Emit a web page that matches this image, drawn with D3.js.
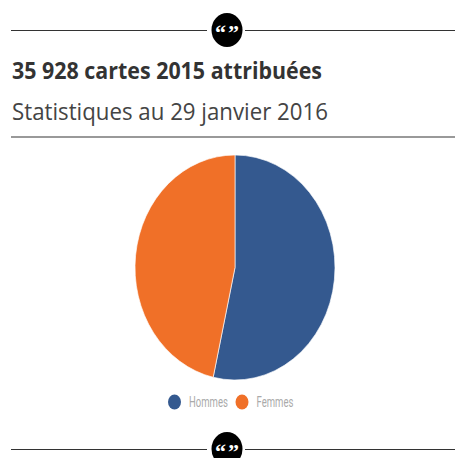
<!DOCTYPE html>
<html>
<head>
<meta charset="utf-8">
<script src="https://cdnjs.cloudflare.com/ajax/libs/d3/7.8.5/d3.min.js"></script>
<style>
  html, body { margin: 0; padding: 0; background: #fff; overflow: hidden; }
</style>
</head>
<body>
<div id="chart"></div>
<script>
// Data
const categories = ["Hommes", "Femmes"];
const shares = [53.5, 46.5];
const colors = ["#34598f", "#f07028"];
const title = "35 928 cartes 2015 attribuées";
const subtitle = "Statistiques au 29 janvier 2016";

const width = 455, height = 458;
const svg = d3.select("#chart").append("svg")
    .attr("width", width)
    .attr("height", height)
    .style("display", "block");

// Quote separators
function separator(y) {
    const g = svg.append("g");
    g.append("line").attr("x1", 11).attr("x2", 207).attr("y1", y + 0.5).attr("y2", y + 0.5)
        .attr("stroke", "#333").attr("stroke-width", 1);
    g.append("line").attr("x1", 245).attr("x2", width).attr("y1", y + 0.5).attr("y2", y + 0.5)
        .attr("stroke", "#333").attr("stroke-width", 1);
    g.append("ellipse").attr("cx", 227).attr("cy", y).attr("rx", 15.5).attr("ry", 17).attr("fill", "#000");
    g.append("text").attr("x", 228).attr("y", y + 10)
        .attr("text-anchor", "middle")
        .attr("font-family", "'Liberation Serif', serif")
        .attr("font-weight", "bold")
        .attr("font-size", 22)
        .attr("letter-spacing", 2)
        .attr("fill", "#fff")
        .text("“”");
}
separator(30);
separator(449);

svg.append("text").attr("x", 12).attr("y", 79)
    .attr("font-family", "'Open Sans', sans-serif")
    .attr("font-weight", "bold")
    .attr("font-size", 23)
    .attr("textLength", 310)
    .attr("lengthAdjust", "spacingAndGlyphs")
    .attr("fill", "#333")
    .text(title);

svg.append("text").attr("x", 12).attr("y", 120)
    .attr("font-family", "'Open Sans', sans-serif")
    .attr("font-size", 23)
    .attr("textLength", 316)
    .attr("lengthAdjust", "spacingAndGlyphs")
    .attr("fill", "#444")
    .text(subtitle);

svg.append("line").attr("x1", 11).attr("x2", width).attr("y1", 137).attr("y2", 137)
    .attr("stroke", "#777").attr("stroke-width", 1.5);

// Pie (stretched vertically, like the source image)
const pie = d3.pie().sort(null);
const arc = d3.arc().innerRadius(0).outerRadius(100);

const pieGroup = svg.append("g")
    .attr("transform", "translate(235,267.5) scale(1,1.125)");

pieGroup.selectAll("path")
    .data(pie(shares))
    .join("path")
    .attr("d", arc)
    .attr("fill", (d, i) => colors[i])
    .attr("stroke", "#fff")
    .attr("stroke-width", 0.6);

// Legend
const legendX = d3.scalePoint().domain(categories).range([174.5, 242]);
const legend = svg.append("g").selectAll("g")
    .data(categories)
    .join("g")
    .attr("transform", d => `translate(${legendX(d)},402)`);

legend.append("ellipse")
    .attr("rx", 6.5).attr("ry", 7.5)
    .attr("fill", (d, i) => colors[i]);

// Narrow label: Roboto squeezed horizontally
legend.append("text")
    .attr("transform", "translate(14.5,5) scale(0.68,1)")
    .attr("font-family", "Roboto, sans-serif")
    .attr("font-size", 14)
    .attr("fill", "#aaa")
    .text(d => d);
</script>
</body>
</html>
